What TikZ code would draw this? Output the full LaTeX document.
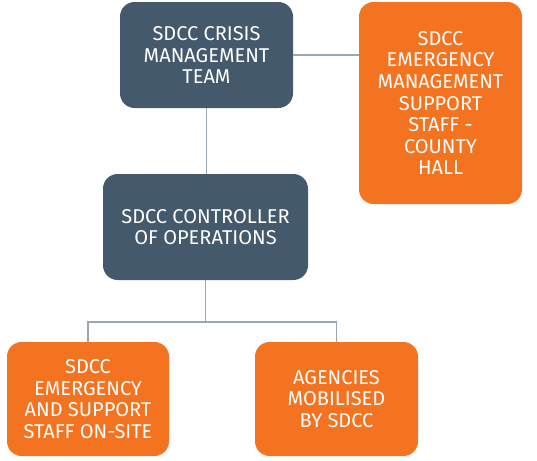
\documentclass[tikz,border=0pt]{standalone}
\usepackage{fontspec}
\setmainfont{Fira Sans}
\usetikzlibrary{calc,positioning}
\definecolor{slate}{HTML}{44596B}
\definecolor{sdccorange}{HTML}{F37321}
\definecolor{link}{HTML}{9AA6B2}
\tikzset{
    lead/.style={
    rectangle,rounded corners=11pt,fill=slate,text=white,align=center,inner sep=0pt,
    font=\fontsize{15}{16.2}\selectfont
    },
    team/.style={
    rectangle,rounded corners=11pt,fill=sdccorange,text=white,align=center,inner sep=0pt,
    font=\fontsize{15}{16.2}\selectfont
    },
    link/.style={
    draw=link,line width=1.1pt
    },
}

\begin{document}
\begin{tikzpicture}[x=0.75pt, y=-0.75pt]
   \useasboundingbox (0,0) rectangle (537,461);
   \node[lead,minimum width=129.75pt,minimum height=79.5pt] (crisis) at (206.5,55) {SDCC CRISIS\\MANAGEMENT\\TEAM};
   \node[team,minimum width=122.25pt,minimum height=151.5pt] (hall) at (440.5,103) {SDCC\\EMERGENCY\\MANAGEMENT\\SUPPORT\\STAFF -\\COUNTY\\HALL};
   \node[lead,minimum width=153.75pt,minimum height=79.5pt] (controller) at (205.5,227) {SDCC CONTROLLER\\OF OPERATIONS};
   \node[team,minimum width=121.5pt,minimum height=85.5pt] (onsite) at (88,399) {SDCC\\EMERGENCY\\AND SUPPORT\\STAFF ON-SITE};
   \node[team,minimum width=122.25pt,minimum height=85.5pt] (agencies) at (336.5,399) {AGENCIES\\MOBILISED\\BY SDCC};
   \coordinate (split) at (controller.south |- 0,322);

  \path[link]
    (crisis.east) -- (crisis.east -| hall.west)
    (crisis.south) -- (crisis.south |- controller.north)
    (controller.south) -- (split)
    (split) -| (onsite.north)
    (split) -| (agencies.north);
\end{tikzpicture}
\end{document}
